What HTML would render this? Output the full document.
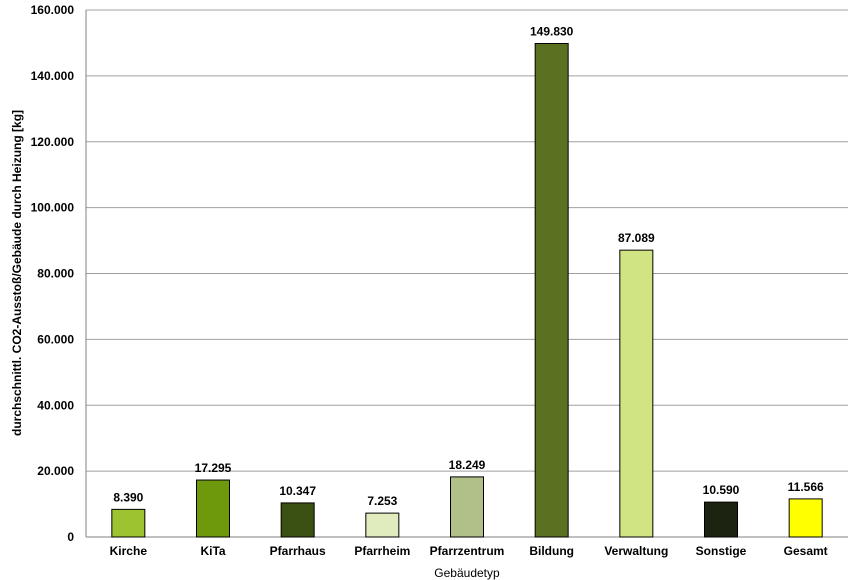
<!DOCTYPE html>
<html><head><meta charset="utf-8"><style>
body{margin:0;background:#fff;}
svg{display:block;font-family:"Liberation Sans",Arial,sans-serif;}
</style></head><body>
<svg id="chart" width="856" height="580"></svg>
<script>
const categories=["Kirche","KiTa","Pfarrhaus","Pfarrheim","Pfarrzentrum","Bildung","Verwaltung","Sonstige","Gesamt"];
const values=[8390,17295,10347,7253,18249,149830,87089,10590,11566];
const valueLabels=["8.390","17.295","10.347","7.253","18.249","149.830","87.089","10.590","11.566"];
const colors=["#9dc331","#6e990c","#3b5013","#e0ebbe","#b0c088","#5b7020","#d0e484","#1c2310","#ffff00"];
const yTicks=[0,20000,40000,60000,80000,100000,120000,140000,160000];
const yTickLabels=["0","20.000","40.000","60.000","80.000","100.000","120.000","140.000","160.000"];
const NS="http://www.w3.org/2000/svg";
const svg=document.getElementById('chart');
const L=86,R=848,T=10,B=537,yMax=160000;
const y=v=>B-(v/yMax)*(B-T);
const slot=(R-L)/categories.length;
const x=i=>L+slot*(i+0.5);
function mk(t,a,txt){const e=document.createElementNS(NS,t);for(const k in a)e.setAttribute(k,a[k]);if(txt!==undefined)e.textContent=txt;svg.appendChild(e);return e;}
yTicks.forEach((v,i)=>{
  if(v>0){const g=mk('line',{x1:L,x2:R,y1:y(v),y2:y(v),stroke:'#a0a0a0','stroke-width':1});
  
  }
  const t=mk('text',{x:L-12,y:y(v)+4,'text-anchor':'end','font-size':12,'font-weight':'bold'},yTickLabels[i]);
  
  
});
const ax=mk('line',{x1:L,x2:L,y1:T,y2:B,stroke:'#808080'});


const bx=mk('line',{x1:L,x2:R,y1:B,y2:B,stroke:'#808080'});


categories.forEach((c,i)=>{
  const w=33;
  const r=mk('rect',{x:x(i)-w/2,y:y(values[i]),width:w,height:B-y(values[i]),fill:colors[i],stroke:'#000','stroke-width':1});
  
  
  const vl=mk('text',{x:x(i),y:y(values[i])-8,'text-anchor':'middle','font-size':12,'font-weight':'bold'},valueLabels[i]);
  
  
  const cl=mk('text',{x:x(i),y:555,'text-anchor':'middle','font-size':12,'font-weight':'bold'},c);
  
  
});
const xt=mk('text',{x:467,y:577,'text-anchor':'middle','font-size':12},'Gebäudetyp');


const yt=mk('text',{x:0,y:0,'text-anchor':'middle','font-size':12,'font-weight':'bold',transform:'translate(21,273) rotate(-90)'},'durchschnittl. CO2-Ausstoß/Gebäude durch Heizung [kg]');


</script>
</body></html>
